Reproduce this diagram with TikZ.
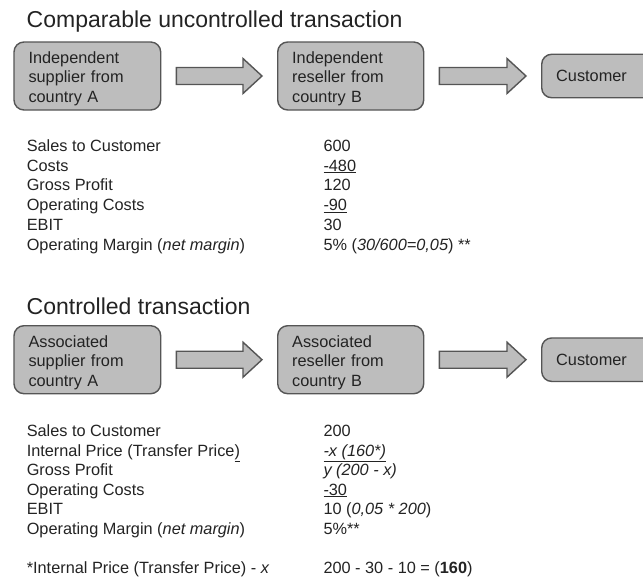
\documentclass[tikz,border=0pt]{standalone}
\usepackage{fontspec}
\setmainfont{Liberation Sans}
\usetikzlibrary{calc}
\definecolor{boxfill}{RGB}{189,189,189}
\definecolor{boxline}{RGB}{85,85,85}
\definecolor{ink}{RGB}{35,35,35}
\newcommand{\blockarrow}[2]{%
  \path[flow] let \p1=(#1.east), \p2=(#2.west) in
    (\x1+15pt,\y1+8.5pt) -- (\x2-34pt,\y1+8.5pt) -- (\x2-34pt,\y1+17.5pt) --
    (\x2-15pt,\y1) -- (\x2-34pt,\y1-17.5pt) -- (\x2-34pt,\y1-8.5pt) --
    (\x1+15pt,\y1-8.5pt) -- cycle;}
\begin{document}
\begin{tikzpicture}[x=1pt,y=-1pt,
  every node/.style={text=ink},
  body/.style={font=\fontsize{16.3}{19.6}\selectfont, inner sep=0pt, anchor=base west},
  ttl/.style={font=\fontsize{23}{27}\selectfont, inner sep=0pt, anchor=base west},
  entity/.style={draw=boxline, fill=boxfill, line width=1.4pt, rounded corners=10pt,
    minimum height=68pt, align=left, inner xsep=14.5pt, inner ysep=0pt, anchor=west,
    font=\fontsize{16.3}{19.5}\selectfont},
  flow/.style={draw=boxline, fill=boxfill, line width=1.4pt, line join=miter}]
\useasboundingbox (0,0) rectangle (643,581);
\clip (0,0) rectangle (643,581);

% ---------- Section 1 ----------
\node[ttl] (t1) at (26.5,27) {Comparable uncontrolled transaction};
\node[entity, text width=117.7pt] (a1) at (13.3,76) {\rule{0pt}{17.3pt}Independent\\supplier from\\country A};
\node[entity, text width=117pt] (b1) at (277,76) {\rule{0pt}{17.3pt}Independent\\reseller from\\country B};
\node[entity, text width=112pt, minimum height=43.5pt] (c1) at (541,76) {Customer};
\blockarrow{a1}{b1}
\blockarrow{b1}{c1}

\node[body] (l1a) at (26.6,151.3) {Sales to Customer};
\node[body] (l1b) at (26.6,171.1) {Costs};
\node[body] (l1c) at (26.6,190.9) {Gross Profit};
\node[body] (l1d) at (26.6,210.7) {Operating Costs};
\node[body] (l1e) at (26.6,230.5) {EBIT};
\node[body] (l1f) at (26.6,250.3) {Operating Margin (\textit{net margin})};
\node[body] (v1a) at (323.3,151.3) {600};
\node[body] (v1b) at (323.3,171.1) {\underline{-480}};
\node[body] (v1c) at (323.3,190.9) {120};
\node[body] (v1d) at (323.3,210.7) {\underline{-90}};
\node[body] (v1e) at (323.3,230.5) {30};
\node[body] (v1f) at (323.3,250.3) {5\% (\textit{30/600=0,05}) **};

% ---------- Section 2 ----------
\node[ttl] (t2) at (26.5,314) {Controlled transaction};
\node[entity, text width=117.7pt] (a2) at (13.3,359.7) {\rule{0pt}{17.3pt}Associated\\supplier from\\country A};
\node[entity, text width=117pt] (b2) at (277,359.7) {\rule{0pt}{17.3pt}Associated\\reseller from\\country B};
\node[entity, text width=112pt, minimum height=43.5pt] (c2) at (541,359.7) {Customer};
\blockarrow{a2}{b2}
\blockarrow{b2}{c2}

\node[body] (l2a) at (26.6,436.5) {Sales to Customer};
\node[body] (l2b) at (26.6,456) {Internal Price (Transfer Price\underline{)}};
\node[body] (l2c) at (26.6,475.5) {Gross Profit};
\node[body] (l2d) at (26.6,495) {Operating Costs};
\node[body] (l2e) at (26.6,514.5) {EBIT};
\node[body] (l2f) at (26.6,534) {Operating Margin (\textit{net margin})};
\node[body] (l2g) at (26.6,573.5) {*Internal Price (Transfer Price) - \textit{x}};
\node[body] (v2a) at (323.3,436.5) {200};
\node[body] (v2b) at (323.3,456) {\underline{\textit{-x (160*)}}};
\node[body] (v2c) at (323.3,475.5) {\textit{y (200 - x)}};
\node[body] (v2d) at (323.3,495) {\underline{-30}};
\node[body] (v2e) at (323.3,514.5) {10 (\textit{0,05 * 200})};
\node[body] (v2f) at (323.3,534) {5\%**};
\node[body] (v2g) at (323.3,573.5) {200 - 30 - 10 = (\textbf{160})};
\end{tikzpicture}
\end{document}
